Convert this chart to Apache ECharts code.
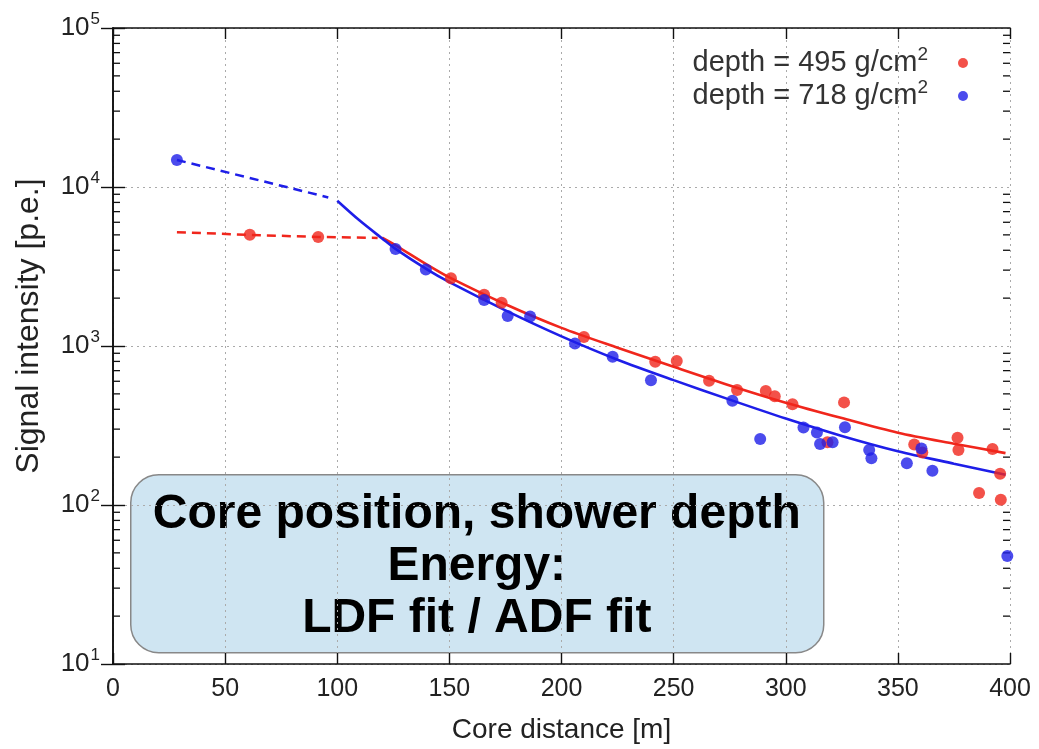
<!DOCTYPE html>
<html>
<head>
<meta charset="utf-8">
<script src="https://cdn.jsdelivr.net/npm/echarts@6/dist/echarts.min.js"></script>
<style>html,body{margin:0;padding:0;background:#fff}#c{width:1039px;height:749px}</style>
</head>
<body>
<div id="c"></div>
<script>
// ---- data ----
const redName = 'depth = 495 g/cm2';
const blueName = 'depth = 718 g/cm2';

const redX = [61, 91.5, 150.7, 165.5, 173.3, 210, 241.8, 251.4, 265.8, 278.3, 291.1, 295.1, 303, 318.6, 326, 357.3, 360.9, 376.6, 377, 386.2, 392.2, 395.6, 395.9];
const redY = [5000, 4850, 2670, 2100, 1870, 1140, 795, 806, 604, 528, 522, 483, 430, 248, 442, 240, 214, 265, 222, 119, 225, 157, 108];

const blueX = [28.5, 126, 139.5, 165.5, 176, 186, 206, 222.8, 239.9, 276.2, 288.6, 307.9, 313.9, 315.3, 320.9, 326.4, 337.2, 338.2, 354, 360.5, 365.4, 398.8];
const blueY = [14800, 4080, 3030, 1950, 1545, 1535, 1035, 855, 610, 453, 260, 307, 286, 242, 248, 308, 222, 197, 183, 227, 164, 47.7];

const redDashX = [28.5, 61, 91.5, 118];
const redDashY = [5200, 5000, 4850, 4780];
const blueDashX = [28.5, 96];
const blueDashY = [14800, 8600];

const redFitX = [120, 126, 140, 150, 175, 200, 225, 250, 275, 300, 325, 350, 375, 398];
const redFitY = [4800, 4300, 3250, 2700, 1830, 1300, 975, 740, 565, 440, 352, 285, 243, 212];
const blueFitX = [100, 110, 120, 126, 140, 150, 175, 200, 225, 250, 275, 300, 325, 350, 375, 398];
const blueFitY = [8200, 6150, 4750, 4080, 3030, 2520, 1675, 1150, 820, 610, 460, 350, 272, 218, 182, 155];

const minorTickValues = [20,30,40,50,60,70,80,90,200,300,400,500,600,700,800,900,2000,3000,4000,5000,6000,7000,8000,9000,20000,30000,40000,50000,60000,70000,80000,90000];

const boxLines = ['Core position, shower depth', 'Energy:', 'LDF fit / ADF fit'];
const xAxisName = 'Core distance [m]';
const yAxisName = 'Signal intensity [p.e.]';

// ---- chart ----
const zip = (xs, ys) => xs.map((x, i) => [x, ys[i]]);
const RED = '#f0261c', BLUE = '#1e1ee8';
const FONT = '"Liberation Sans", Arial, sans-serif';

const chart = echarts.init(document.getElementById('c'), null, {renderer: 'canvas'});

const axisLineStyle = {show: true, lineStyle: {color: '#111', width: 1.6}};
const gridLine = {show: true, lineStyle: {color: '#aaa', type: [2, 4], width: 1}};

chart.setOption({
  animation: false,
  backgroundColor: '#fff',
  grid: {left: 113, right: 29, top: 28, bottom: 83},
  legend: {
    data: [{name: redName, icon: 'circle'}, {name: blueName, icon: 'circle'}],
    orient: 'vertical', right: 66, top: 40, align: 'right',
    itemWidth: 60, itemHeight: 10, itemGap: 0,
    formatter: n => n.replace(/cm2$/, 'cm{sup|2}'),
    textStyle: {fontFamily: FONT, fontSize: 29, color: '#333', lineHeight: 30,
      rich: {sup: {fontFamily: FONT, fontSize: 19, color: '#333', padding: [0, 0, 17, 0]}}}
  },
  xAxis: [{
    type: 'value', min: 0, max: 400, interval: 50,
    name: xAxisName, nameLocation: 'middle', nameGap: 52,
    nameTextStyle: {fontFamily: FONT, fontSize: 28, color: '#222'},
    axisLine: axisLineStyle,
    axisTick: {show: true, inside: true, length: 11, lineStyle: {color: '#111', width: 1.4}},
    axisLabel: {fontFamily: FONT, fontSize: 25, color: '#222', margin: 13},
    splitLine: gridLine
  }, {
    type: 'value', min: 0, max: 400, interval: 50, position: 'top',
    axisLine: axisLineStyle,
    axisTick: {show: true, inside: true, length: 11, lineStyle: {color: '#111', width: 1.4}},
    axisLabel: {show: false}, splitLine: {show: false}
  }],
  yAxis: [{
    type: 'log', logBase: 10, min: 10, max: 100000,
    name: yAxisName, nameLocation: 'middle', nameGap: 68, nameRotate: 90,
    nameTextStyle: {fontFamily: FONT, fontSize: 32, color: '#222', padding: [0, 0, 0, 40]},
    axisLine: axisLineStyle,
    axisTick: {show: true, inside: true, length: 12, lineStyle: {color: '#111', width: 1.4}},
    axisLabel: {
      margin: 13,
      formatter: v => '{b|10}{s|' + Math.round(Math.log10(v)) + '}',
      rich: {
        b: {fontFamily: FONT, fontSize: 26, color: '#222'},
        s: {fontFamily: FONT, fontSize: 17, color: '#222', padding: [0, 0, 17, 1]}
      }
    },
    splitLine: gridLine
  }, {
    type: 'log', logBase: 10, min: 10, max: 100000, position: 'right',
    axisLine: axisLineStyle,
    axisTick: {show: true, inside: true, length: 12, lineStyle: {color: '#111', width: 1.4}},
    axisLabel: {show: false}, splitLine: {show: false}
  }],
  series: [
    {
      name: 'minor ticks', type: 'custom', silent: true, clip: false, z: 5,
      data: minorTickValues.map(v => [0, v]),
      renderItem: (params, api) => {
        const v = api.value(1);
        const l = api.coord([0, v]);
        const r = api.coord([400, v]);
        const st = {stroke: '#111', lineWidth: 1.3};
        return {type: 'group', children: [
          {type: 'line', shape: {x1: l[0], y1: l[1], x2: l[0] + 7, y2: l[1]}, style: st},
          {type: 'line', shape: {x1: r[0], y1: r[1], x2: r[0] - 7, y2: r[1]}, style: st}
        ]};
      }
    },
    {name: 'red dash', type: 'line', data: zip(redDashX, redDashY), symbol: 'none', silent: true,
      lineStyle: {color: RED, width: 2.5, type: [9, 6]}, z: 3},
    {name: 'blue dash', type: 'line', data: zip(blueDashX, blueDashY), symbol: 'none', silent: true,
      lineStyle: {color: BLUE, width: 2.5, type: [9, 6]}, z: 3},
    {name: 'red fit', type: 'line', data: zip(redFitX, redFitY), symbol: 'none', smooth: 0.3, silent: true,
      lineStyle: {color: RED, width: 2.6}, z: 3},
    {name: 'blue fit', type: 'line', data: zip(blueFitX, blueFitY), symbol: 'none', smooth: 0.3, silent: true,
      lineStyle: {color: BLUE, width: 2.6}, z: 4},
    {name: redName, type: 'scatter', data: zip(redX, redY), symbol: 'circle', symbolSize: 12,
      itemStyle: {color: RED}, z: 6},
    {name: blueName, type: 'scatter', data: zip(blueX, blueY), symbol: 'circle', symbolSize: 12,
      itemStyle: {color: BLUE}, z: 7}
  ],
  graphic: [{
    type: 'group', left: 130, top: 474, z: 100,
    children: [
      {type: 'rect', shape: {x: 0, y: 0, width: 693, height: 178, r: 28},
        style: {fill: '#cfe5f2', stroke: '#888', lineWidth: 1.5}},
      {type: 'text', x: 346, y: 92,
        style: {text: boxLines.join('\n'), font: 'bold 48px ' + FONT, fill: '#000',
          align: 'center', verticalAlign: 'middle', lineHeight: 52}}
    ]
  }]
});
</script>
</body>
</html>
